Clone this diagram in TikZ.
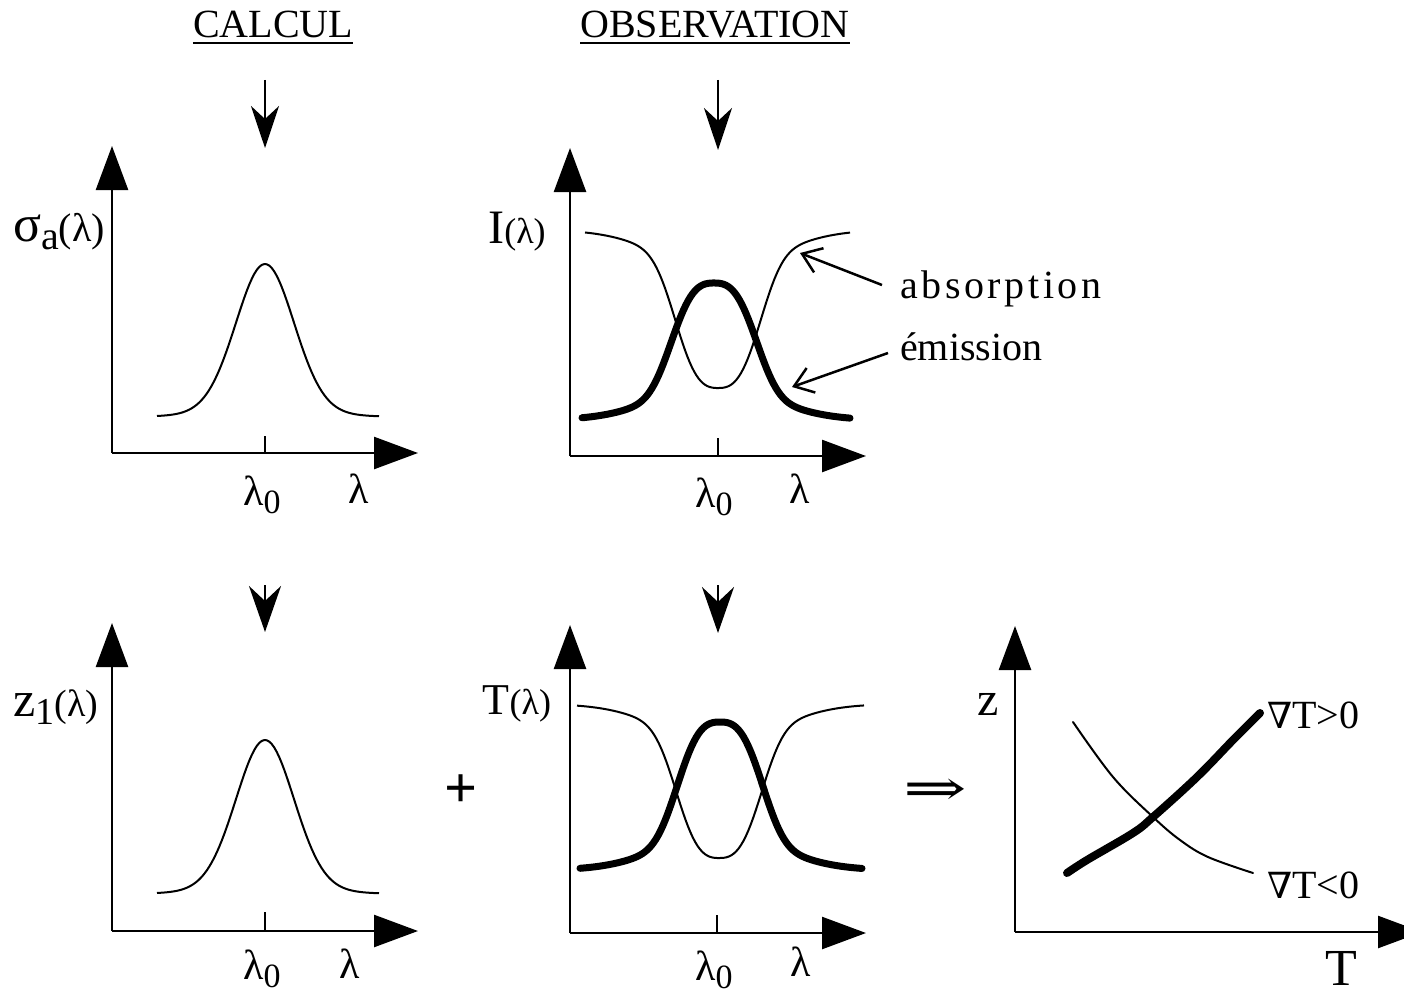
\documentclass[tikz,border=0pt]{standalone}
\usepackage{fontspec}
\usepackage{graphicx}
\setmainfont{Liberation Serif}
\newfontfamily\dvs{DejaVu Serif}
\usetikzlibrary{arrows.meta,calc}
\begin{document}
\begin{tikzpicture}[x=1pt,y=-1pt,
  axis/.style={line width=2.5pt,-{Triangle[length=44pt,width=32pt]}},
  thinc/.style={line width=2pt,line join=round},
  heavy/.style={line width=7pt,line cap=round,line join=round},
  downarr/.style={line width=2.5pt,-{Stealth[length=42pt,width=28pt,inset=13pt]}},
  downarrb/.style={line width=2.5pt,-{Stealth[length=46pt,width=32pt,inset=15pt]}},
  lblarr/.style={line width=2.5pt,-{Straight Barb[length=18pt,width=26pt]}},
  lbl/.style={inner sep=0pt,font=\fontsize{40}{44}\selectfont},
  lam/.style={inner sep=0pt,font=\fontsize{42}{42}\selectfont},
  declare function={
    prof(\d)=0.75*exp(-pow(abs(\d)/48.7+0.0001,3))+0.25*exp(-(\d/80)^2);
    gpro(\d)=0.9*exp(-((\d/29.4)^2)/2)+0.1/(1+(\d/40)^2);
  }]
\useasboundingbox (0,0) rectangle (1404,995);
\fill[white] (0,0) rectangle (1404,995);

% titles
\node[lbl,anchor=base] (calc) at (273,38) {CALCUL};
\node[lbl,anchor=base] (obs) at (715,38) {OBSERVATION};
\draw[line width=2pt] ($(calc.base west)+(0,5)$) -- ($(calc.base east)+(0,5)$);
\draw[line width=2pt] ($(obs.base west)+(0,5)$) -- ($(obs.base east)+(0,5)$);

% down arrows
\coordinate (a1s) at (265,80);  \coordinate (a1e) at (265,148);
\coordinate (a2s) at (718,80);  \coordinate (a2e) at (718,150);
\coordinate (a3s) at (265,585); \coordinate (a3e) at (265,632);
\coordinate (a4s) at (718,585); \coordinate (a4e) at (718,633);
\draw[downarr] (a1s) -- (a1e);
\draw[downarr] (a2s) -- (a2e);
\draw[downarrb] (a3s) -- (a3e);
\draw[downarrb] (a4s) -- (a4e);

% ---------- panel 1 : sigma_a
\coordinate (o1) at (112,453);
\draw[axis] (o1) -- (112,146);
\draw[axis] (o1) -- (418,453);
\draw[thinc] (265,453) -- (265,436);
\draw[thinc] plot[domain=157:379,samples=90] (\x,{418-154*gpro(\x-265)});
\node[inner sep=0pt] (l1) at (59,232) {{\fontsize{52}{52}\selectfont σ}{\fontsize{40}{40}\selectfont\raisebox{-8pt}{a}(λ)}};
\node[inner sep=0pt] (l10) at (262,495) {{\fontsize{42}{42}\selectfont λ}{\fontsize{34}{34}\selectfont\raisebox{-8pt}{0}}};
\node[lam] (l1l) at (359,489) {λ};

% ---------- panel 2 : I
\coordinate (o2) at (570,456);
\draw[axis] (o2) -- (570,148);
\draw[axis] (o2) -- (866,456);
\draw[thinc] (718,456) -- (718,438);
\draw[thinc] plot[domain=585:850,samples=120] (\x,{230+158*prof(\x-718)});
\draw[heavy] plot[domain=582:850,samples=120] (\x,{420-137*prof(\x-714)});
\node[inner sep=0pt] (l2) at (517,232) {{\fontsize{48}{48}\selectfont I}{\fontsize{36}{36}\selectfont(λ)}};
\node[inner sep=0pt] (l20) at (714,497) {{\fontsize{42}{42}\selectfont λ}{\fontsize{34}{34}\selectfont\raisebox{-8pt}{0}}};
\node[lam] (l2l) at (800,489) {λ};

\node[lbl,anchor=base west] (abs) at (900,298) {\addfontfeature{LetterSpace=9}absorption};
\node[lbl,anchor=base west] (emi) at (900,360) {émission};
\coordinate (absf) at (882,285); \coordinate (abst) at (800,253);
\coordinate (emif) at (888,353); \coordinate (emit) at (792,387);
\draw[lblarr] (absf) -- (abst);
\draw[lblarr] (emif) -- (emit);

% ---------- panel 3 : z1
\coordinate (o3) at (112,931);
\draw[axis] (o3) -- (112,623);
\draw[axis] (o3) -- (418,931);
\draw[thinc] (265,931) -- (265,912);
\draw[thinc] plot[domain=157:379,samples=90] (\x,{895-155*gpro(\x-265)});
\node[inner sep=0pt] (l3) at (56,707) {{\fontsize{50}{50}\selectfont z}{\fontsize{38}{38}\selectfont\raisebox{-8pt}{1}(λ)}};
\node[inner sep=0pt] (l30) at (262,969) {{\fontsize{42}{42}\selectfont λ}{\fontsize{34}{34}\selectfont\raisebox{-8pt}{0}}};
\node[lam] (l3l) at (350,964) {λ};

\node[inner sep=0pt] (plus) at (461,791) {\fontsize{58}{58}\selectfont\bfseries +};

% ---------- panel 4 : T
\coordinate (o4) at (570,933);
\draw[axis] (o4) -- (570,625);
\draw[axis] (o4) -- (866,933);
\draw[thinc] (717,933) -- (717,915);
\draw[thinc] plot[domain=577:864,samples=120] (\x,{704+154*prof(\x-719)});
\draw[heavy] plot[domain=580:862,samples=120] (\x,{870-148*prof(\x-720)});
\node[inner sep=0pt] (l4) at (517,704) {{\fontsize{44}{44}\selectfont T}{\fontsize{36}{36}\selectfont(λ)}};
\node[inner sep=0pt] (l40) at (714,970) {{\fontsize{42}{42}\selectfont λ}{\fontsize{34}{34}\selectfont\raisebox{-8pt}{0}}};
\node[lam] (l4l) at (801,962) {λ};

\node[inner sep=0pt] (imp) at (935,792) {\dvs\fontsize{40}{40}\selectfont\scalebox{1.9}[1.25]{⇒}};

% ---------- panel 5 : z(T)
\coordinate (o5) at (1015,932);
\draw[axis] (o5) -- (1015,626);
\draw[axis] (o5) -- (1422,932);
\draw[thinc,line cap=round] plot[smooth,tension=0.6] coordinates {(1073,722) (1113,777) (1153,817) (1180,840) (1208,857) (1253,873)};
\draw[line width=8pt,line cap=round,line join=round] plot[smooth,tension=0.6] coordinates {(1067,873) (1087,860) (1133,833) (1153,817) (1197,777) (1233,740) (1260,713)};
\node[inner sep=0pt] (l5) at (988,704) {\fontsize{48}{48}\selectfont z};
\node[lbl,anchor=west] (gp) at (1267,715) {{\dvs\fontsize{36}{36}\selectfont ∇}T>0};
\node[lbl,anchor=west] (gn) at (1267,885) {{\dvs\fontsize{36}{36}\selectfont ∇}T<0};
\node[inner sep=0pt] (l5T) at (1341,968) {\fontsize{52}{52}\selectfont T};
\end{tikzpicture}
\end{document}
